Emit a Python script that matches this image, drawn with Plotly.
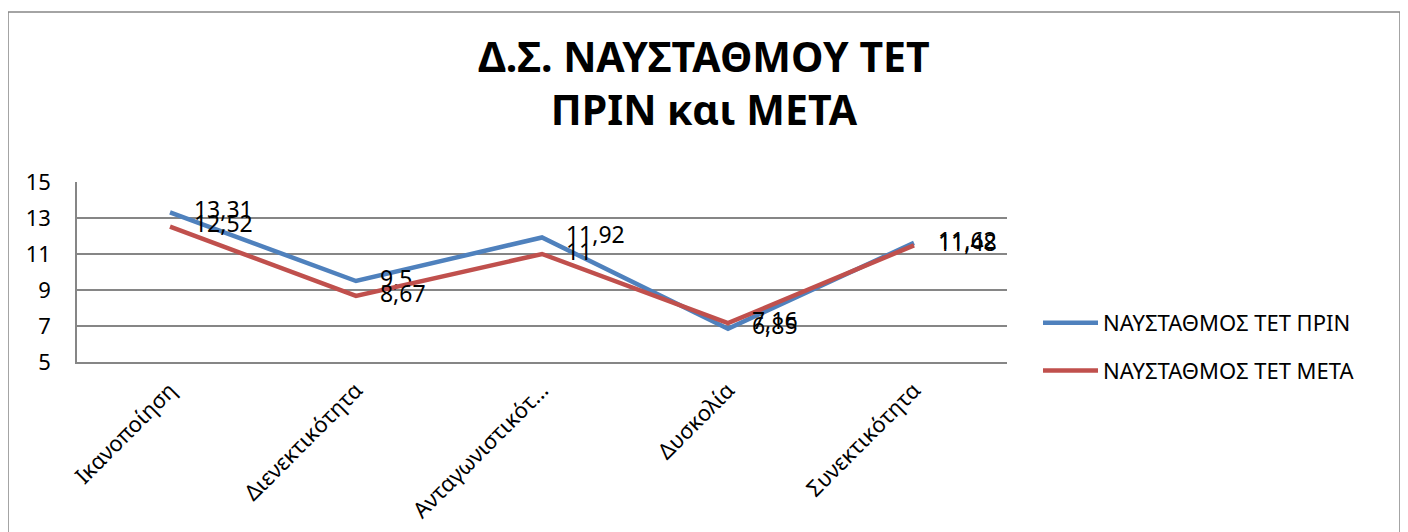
import plotly.graph_objects as go

categories = ["Ικανοποίηση", "Διενεκτικότητα", "Ανταγωνιστικότ...", "Δυσκολία", "Συνεκτικότητα"]
before = [13.31, 9.5, 11.92, 6.85, 11.62]
after = [12.52, 8.67, 11.0, 7.16, 11.48]
series_names = ["ΝΑΥΣΤΑΘΜΟΣ ΤΕΤ ΠΡΙΝ", "ΝΑΥΣΤΑΘΜΟΣ ΤΕΤ ΜΕΤΑ"]
y_ticks = [5, 7, 9, 11, 13, 15]


def fmt(v):
    s = f"{v:.2f}".rstrip("0").rstrip(".")
    return s.replace(".", ",")


FONT = "Noto Sans"
PAD = "\u00a0\u00a0\u00a0\u00a0"
fig = go.Figure()
for i, (vals, name, color) in enumerate([(before, series_names[0], "#4F81BD"),
                                         (after, series_names[1], "#C0504D")]):
    fig.add_trace(go.Scatter(
        x=categories, y=vals, name=name, mode="lines+text", legendgroup=f"g{i}",
        line=dict(color=color, width=4.5),
        text=[PAD + fmt(v) for v in vals],
        textposition="middle right",
        textfont=dict(family=FONT, size=23, color="black"),
        cliponaxis=False,
    ))

# page body has an 8px margin, so coordinates are shifted by 8
OFF = 8
W, H = 1408 - OFF, 532 - OFF
L, R, T, B = 77 - OFF, 1007 - OFF, 182 - OFF, 362 - OFF
fig.update_layout(
    width=W, height=H,
    margin=dict(l=L, r=W - R, t=T, b=H - B, autoexpand=False),
    paper_bgcolor="white", plot_bgcolor="white",
    font=dict(family=FONT, color="black"),
    title=dict(text="<b>Δ.Σ. ΝΑΥΣΤΑΘΜΟΥ ΤΕΤ<br>ΠΡΙΝ και ΜΕΤΑ</b>",
               font=dict(family=FONT, size=41, color="black"),
               x=(704 - OFF) / W, xref="container", xanchor="center",
               y=1 - (72 - OFF) / H, yref="container", yanchor="middle"),
    legend=dict(x=(1038 - 77) / 930, y=(362 - 302) / 180, xanchor="left", yanchor="top",
                font=dict(family=FONT, size=22), itemwidth=55, tracegroupgap=16,
                bgcolor="rgba(0,0,0,0)"),
    showlegend=True,
    separators=",.",
)
fig.update_xaxes(showgrid=False, showline=True, linecolor="#868686", linewidth=1.5,
                 tickangle=-45, tickfont=dict(family=FONT, size=22), ticks="",
                 ticklabelstandoff=5, range=[-0.5, 4.5], automargin=False)
fig.update_yaxes(range=[5, 15], tickvals=y_ticks, showgrid=True, gridcolor="#868686", gridwidth=1.5,
                 showline=True, linecolor="#868686", linewidth=1.5, zeroline=False,
                 tickfont=dict(family=FONT, size=22), ticks="", ticklabelstandoff=20,
                 automargin=False)

x0 = (8 - 77) / 930
x1 = (1400 - 77) / 930
y1 = (362 - 12) / 180
y0 = (362 - 560) / 180
fig.add_shape(type="rect", xref="paper", yref="paper", x0=x0, x1=x1, y0=y0, y1=y1,
              line=dict(color="#868686", width=1.5), fillcolor="rgba(0,0,0,0)", layer="below")

fig.write_html("out.html")
